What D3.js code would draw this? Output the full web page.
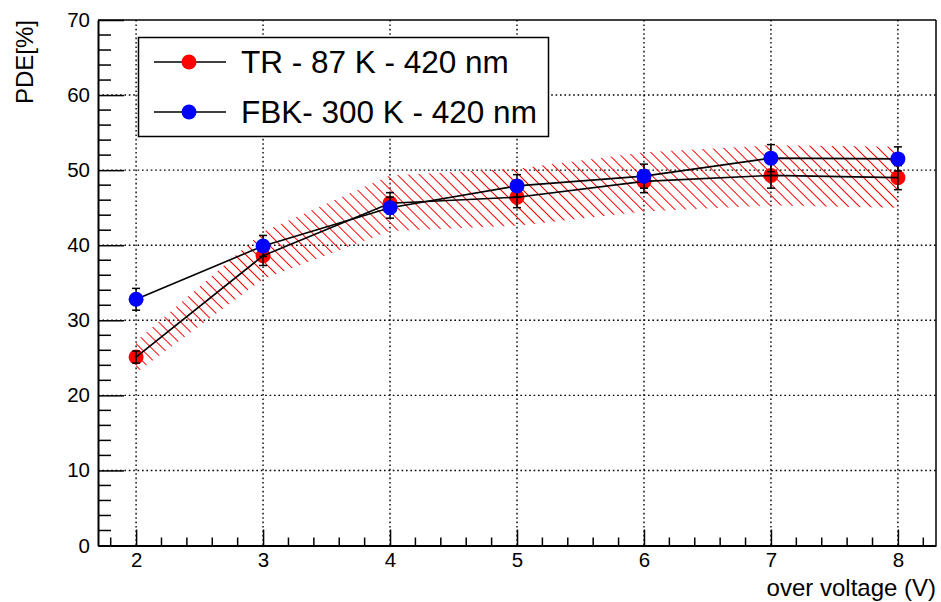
<!DOCTYPE html>
<meta charset="utf-8">

<head>
  <script src="https://d3js.org/d3.v7.min.js"></script>
  <style>
    body { margin: 0; background: #fff; }
    text { font-family: "Liberation Sans", Arial, Helvetica, sans-serif; }
  </style>
</head>

<body>
  <svg id="root"></svg>

  <script>
    // values
    const overVoltage = [2, 3, 4, 5, 6, 7, 8];
    const trPde = [25.1, 38.6, 45.6, 46.4, 48.5, 49.3, 49.0];
    const trErr = [0.8, 1.3, 1.4, 1.4, 1.5, 1.7, 1.6];
    const fbkPde = [32.8, 39.9, 45.0, 47.9, 49.2, 51.6, 51.5];
    const fbkErr = [1.45, 1.4, 1.4, 1.5, 1.6, 1.8, 1.6];
    const bandHigh = [27.2, 41.8, 49.3, 50.2, 52.4, 53.3, 53.1];
    const bandLow = [23.0, 35.5, 41.9, 42.6, 44.5, 45.3, 45.0];
    const xTicks = [2, 3, 4, 5, 6, 7, 8];
    const yTicks = [0, 10, 20, 30, 40, 50, 60, 70];
    const legendLabels = ["TR - 87 K - 420 nm", "FBK- 300 K - 420 nm"];

    const W = 941, H = 602;
    const svg = d3.select("#root").attr("width", W).attr("height", H);

    const x = d3.scaleLinear([1.7, 8.3], [98, 936]);
    const y = d3.scaleLinear([0, 70], [545.5, 20]);

    // hatch for the red band
    const defs = svg.append("defs");
    defs.append("pattern")
      .attr("id", "hatch")
      .attr("patternUnits", "userSpaceOnUse")
      .attr("width", 7.8).attr("height", 7.8)
      .attr("patternTransform", "rotate(-45)")
      .append("line")
      .attr("x1", 1).attr("y1", -1).attr("x2", 1).attr("y2", 9)
      .attr("stroke", "#ff0000").attr("stroke-width", 1)
      .attr("shape-rendering", "crispEdges");

    // grid
    const grid = svg.append("g");
    grid.selectAll(".gx").data(xTicks).join("line")
      .attr("x1", d => x(d)).attr("x2", d => x(d))
      .attr("y1", y(70)).attr("y2", y(0))
      .attr("stroke", "#000").attr("stroke-width", 1.4)
      .attr("stroke-dasharray", "1.6,2.8");
    grid.selectAll(".gy").data(yTicks.filter(d => d > 0 && d < 70)).join("line")
      .attr("y1", d => y(d)).attr("y2", d => y(d))
      .attr("x1", x(1.7)).attr("x2", x(8.3))
      .attr("stroke", "#000").attr("stroke-width", 1.4)
      .attr("stroke-dasharray", "1.6,2.8");

    // axes (ROOT style ticks inside the frame)
    const xAxis = d3.axisBottom(x).tickValues(xTicks).tickFormat(d3.format("d"))
      .tickSizeInner(-16).tickSizeOuter(0).tickPadding(14);
    const gx = svg.append("g").attr("transform", `translate(0,${y(0)})`).call(xAxis);
    const xMinor = d3.range(1.8, 8.3, 0.2).filter(v => Math.abs(v - Math.round(v)) > 0.01);
    gx.selectAll(".minor").data(xMinor).join("line")
      .attr("x1", d => x(d)).attr("x2", d => x(d)).attr("y1", 0).attr("y2", -8)
      .attr("stroke", "#000").attr("stroke-width", 1.5);

    const yAxis = d3.axisLeft(y).tickValues(yTicks)
      .tickSizeInner(-26).tickSizeOuter(0).tickPadding(8);
    const gy = svg.append("g").attr("transform", `translate(${x(1.7)},0)`).call(yAxis);
    const yMinor = d3.range(2, 70, 2).filter(v => v % 10 !== 0);
    gy.selectAll(".minor").data(yMinor).join("line")
      .attr("y1", d => y(d)).attr("y2", d => y(d)).attr("x1", 0).attr("x2", 13)
      .attr("stroke", "#000").attr("stroke-width", 1.5);

    [gx, gy].forEach(g => {
      g.select(".domain").attr("stroke", "#000").attr("stroke-width", 2);
      g.selectAll(".tick line").attr("stroke", "#000").attr("stroke-width", 1.5);
      g.selectAll(".tick text").attr("font-size", 20.5).attr("fill", "#000")
        .style("font-family", "'Liberation Sans', Arial, sans-serif");
    });
    gx.selectAll(".tick text").attr("dy", "0.35em");

    // frame top & right
    svg.append("line").attr("x1", x(1.7)).attr("x2", x(8.3)).attr("y1", y(70)).attr("y2", y(70))
      .attr("stroke", "#000").attr("stroke-width", 1.5);
    svg.append("line").attr("x1", x(8.3)).attr("x2", x(8.3)).attr("y1", y(70)).attr("y2", y(0))
      .attr("stroke", "#000").attr("stroke-width", 1.5);

    // axis titles
    svg.append("text")
      .attr("text-anchor", "end")
      .attr("x", x(8.3)).attr("y", 596)
      .attr("font-size", 24)
      .text("over voltage (V)");
    svg.append("text")
      .attr("text-anchor", "end")
      .attr("transform", `translate(33,${y(70)}) rotate(-90)`)
      .attr("font-size", 24)
      .text("PDE[%]");

    // hatched band
    const idx = d3.range(overVoltage.length);
    const band = d3.area()
      .x(i => x(overVoltage[i]))
      .y0(i => y(bandLow[i]))
      .y1(i => y(bandHigh[i]));
    svg.append("path").datum(idx).attr("d", band)
      .attr("fill", "url(#hatch)").attr("stroke", "none");

    const line = d3.line().x(d => x(d[0])).y(d => y(d[1]));
    const trPts = overVoltage.map((v, i) => [v, trPde[i], trErr[i]]);
    const fbkPts = overVoltage.map((v, i) => [v, fbkPde[i], fbkErr[i]]);

    function errorBars(pts) {
      const g = svg.append("g").attr("stroke", "#000").attr("stroke-width", 1.5);
      pts.forEach(d => {
        const cx = x(d[0]);
        g.append("line").attr("x1", cx).attr("x2", cx)
          .attr("y1", y(d[1] - d[2])).attr("y2", y(d[1] + d[2]));
        [d[1] - d[2], d[1] + d[2]].forEach(v => {
          g.append("line").attr("x1", cx - 4).attr("x2", cx + 4)
            .attr("y1", y(v)).attr("y2", y(v));
        });
      });
    }
    function markers(pts, color) {
      svg.append("g").selectAll("circle").data(pts).join("circle")
        .attr("cx", d => x(d[0])).attr("cy", d => y(d[1]))
        .attr("r", 7.5).attr("fill", color);
    }

    markers(trPts, "#ff0000");
    errorBars(trPts);
    svg.append("path").datum(trPts).attr("d", line)
      .attr("fill", "none").attr("stroke", "#000").attr("stroke-width", 1.6);
    svg.append("path").datum(fbkPts).attr("d", line)
      .attr("fill", "none").attr("stroke", "#000").attr("stroke-width", 1.6);
    errorBars(fbkPts);
    markers(fbkPts, "#0000ff");

    // legend
    const leg = svg.append("g");
    leg.append("rect").attr("x", 138.5).attr("y", 37.5).attr("width", 410).attr("height", 99)
      .attr("fill", "#fff").attr("stroke", "#000").attr("stroke-width", 1.5);
    const legColors = ["#ff0000", "#0000ff"];
    legendLabels.forEach((lab, i) => {
      const ly = 62 + i * 50;
      leg.append("line").attr("x1", 154).attr("x2", 226).attr("y1", ly).attr("y2", ly)
        .attr("stroke", "#000").attr("stroke-width", 1.5);
      leg.append("circle").attr("cx", 189).attr("cy", ly).attr("r", 7.5).attr("fill", legColors[i]);
      leg.append("text").attr("x", 241).attr("y", ly).attr("dy", "0.36em")
        .attr("font-size", 31.5).text(lab);
    });
  </script>
</body>
